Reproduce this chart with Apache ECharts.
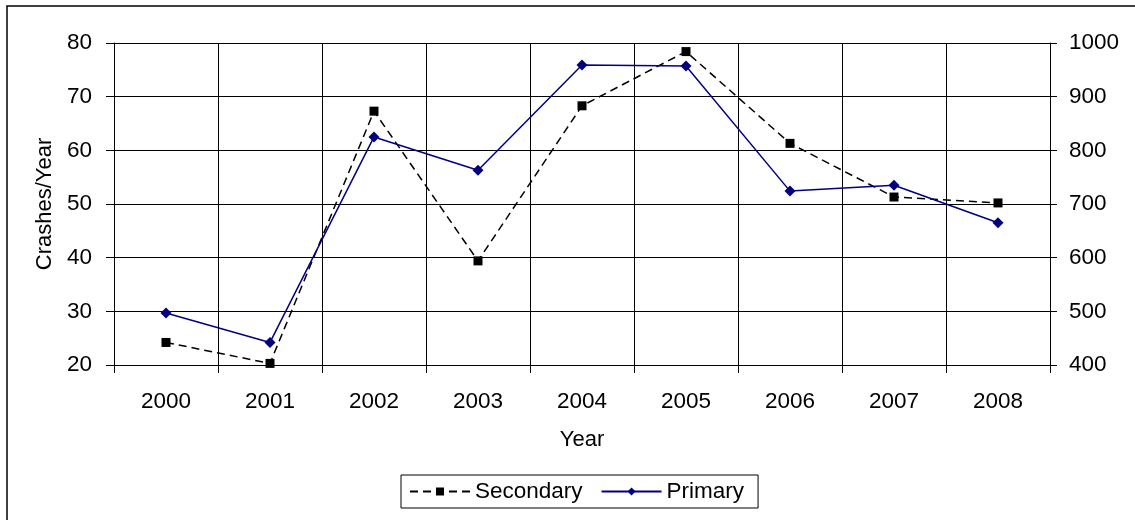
<!DOCTYPE html>
<html>
<head>
<meta charset="utf-8">
<script src="https://cdn.jsdelivr.net/npm/echarts@6/dist/echarts.min.js"></script>
<style>
html,body{margin:0;padding:0;background:#fff;}
#c{width:1135px;height:520px;}
</style>
</head>
<body>
<div id="c"></div>
<script>
const years = ['2000','2001','2002','2003','2004','2005','2006','2007','2008'];
const secondary = [24.2, 20.3, 67.3, 39.4, 68.3, 78.4, 61.3, 51.3, 50.2];
const primary = [497, 442, 825, 763, 959, 957, 724, 735, 665];
const leftTicks = {min: 20, max: 80, interval: 10};
const rightTicks = {min: 400, max: 1000, interval: 100};

const FONT = '"Liberation Sans", Arial, sans-serif';
const chart = echarts.init(document.getElementById('c'), null, {renderer: 'canvas'});
chart.setOption({
  backgroundColor: '#fff',
  animation: false,
  textStyle: {fontFamily: FONT, color: '#000'},
  graphic: [{
    type: 'rect',
    shape: {x: 7, y: 6, width: 1140, height: 530},
    style: {fill: 'none', stroke: '#000', lineWidth: 1.5},
    silent: true
  }],
  grid: {left: 114, right: 85, top: 43, bottom: 155, containLabel: false},
  legend: {
    left: 401, top: 475,
    borderColor: '#000', borderWidth: 1,
    padding: [5, 14, 5, 8],
    itemGap: 18,
    itemWidth: 60, itemHeight: 10,
    textStyle: {fontFamily: FONT, fontSize: 22.5, color: '#000'},
    data: ['Secondary', 'Primary']
  },
  xAxis: {
    type: 'category',
    data: years,
    boundaryGap: true,
    name: 'Year',
    nameLocation: 'middle',
    nameGap: 64,
    nameTextStyle: {fontFamily: FONT, fontSize: 22, color: '#000'},
    axisLine: {show: true, lineStyle: {color: '#000', width: 1}},
    axisTick: {show: true, length: 8, lineStyle: {color: '#000'}},
    axisLabel: {fontFamily: FONT, fontSize: 22.5, color: '#000', margin: 25},
    splitLine: {show: true, lineStyle: {color: '#000', width: 1}}
  },
  yAxis: [{
    type: 'value',
    min: leftTicks.min, max: leftTicks.max, interval: leftTicks.interval,
    name: 'Crashes/Year',
    nameLocation: 'middle',
    nameGap: 58,
    nameTextStyle: {fontFamily: FONT, fontSize: 22, color: '#000'},
    axisLine: {show: true, lineStyle: {color: '#000', width: 1}},
    axisTick: {show: true, length: 8, lineStyle: {color: '#000'}},
    axisLabel: {fontFamily: FONT, fontSize: 22.5, color: '#000', margin: 22},
    splitLine: {show: true, lineStyle: {color: '#000', width: 1}}
  }, {
    type: 'value',
    position: 'right',
    min: rightTicks.min, max: rightTicks.max, interval: rightTicks.interval,
    axisLine: {show: true, lineStyle: {color: '#000', width: 1}},
    axisTick: {show: true, length: 7, lineStyle: {color: '#000'}},
    axisLabel: {fontFamily: FONT, fontSize: 22.5, color: '#000', margin: 19, formatter: v => String(v)},
    splitLine: {show: false}
  }],
  series: [{
    name: 'Secondary',
    type: 'line',
    yAxisIndex: 0,
    data: secondary,
    symbol: 'rect',
    symbolSize: 9,
    showAllSymbol: true,
    itemStyle: {color: '#000'},
    lineStyle: {color: '#000', width: 1.5, type: [8, 5]},
    z: 3
  }, {
    name: 'Primary',
    type: 'line',
    yAxisIndex: 1,
    data: primary,
    symbol: 'diamond',
    symbolSize: 11,
    showAllSymbol: true,
    itemStyle: {color: '#000080'},
    lineStyle: {color: '#000080', width: 1.5},
    z: 4
  }]
});
</script>
</body>
</html>
